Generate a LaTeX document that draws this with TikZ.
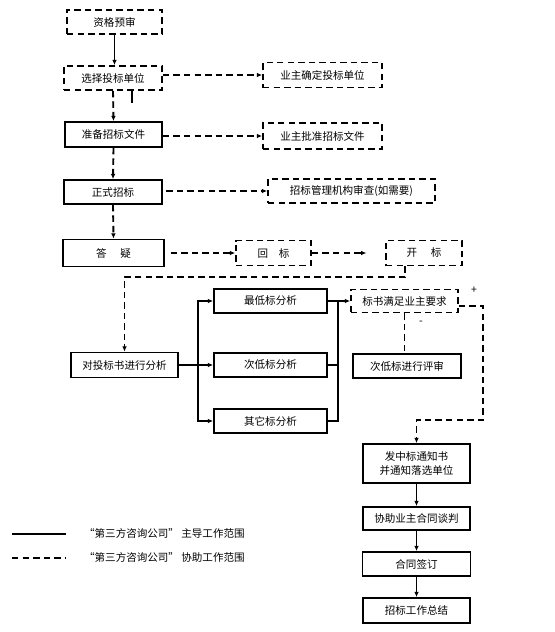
\documentclass[tikz,border=0pt]{standalone}
\usepackage{fontspec}
\setmainfont{Noto Sans CJK SC}
\usepackage{tikz}
\usetikzlibrary{arrows.meta,positioning,calc}

\tikzset{
    flowbox/.style={draw, line width=1.5pt, inner sep=0pt, align=center},
    dashbox/.style={flowbox, dash pattern=on 5.5pt off 3.5pt},
    solidlink/.style={line width=1.6pt},
    dashlink/.style={line width=1.6pt, dash pattern=on 5.5pt off 3.5pt},
    arrowed/.style={-{Latex[length=4.5pt,width=4pt]}}
}

\begin{document}
\begin{tikzpicture}[x=0.03cm, y=-0.03cm, font=\fontsize{9}{12}\selectfont]
    \useasboundingbox (0,0) rectangle (555,632);

    % Left column
    \node[dashbox, minimum width=2.85cm, minimum height=0.72cm] (qual) at (114.5,22) {资格预审};
    \node[dashbox, minimum width=2.94cm, minimum height=0.72cm] (select) at (113,78) {选择投标单位};
    \node[flowbox, minimum width=2.91cm, minimum height=0.75cm] (prep) at (113.5,134.5) {准备招标文件};
    \node[flowbox, minimum width=2.94cm, minimum height=0.72cm] (tender) at (113,192) {正式招标};
    \node[flowbox, minimum width=3.03cm, minimum height=0.81cm] (qa) at (113.5,253) {答\hspace{1.3em}疑};

    % Owner side
    \node[dashbox, minimum width=3.57cm, minimum height=0.75cm] (ownsel) at (322.5,75) {业主确定投标单位};
    \node[dashbox, minimum width=3.57cm, minimum height=0.78cm] (ownapp) at (322.5,136) {业主批准招标文件};
    \node[dashbox, minimum width=5.01cm, minimum height=0.72cm] (review) at (351.5,191) {招标管理机构审查(如需要)};
    \node[dashbox, minimum width=2.25cm, minimum height=0.75cm] (ret) at (273.5,253) {回\hspace{1em}标};
    \node[dashbox, minimum width=2.28cm, minimum height=0.75cm] (open) at (424,253) {开\hspace{1.3em}标};

    % Analysis
    \node[flowbox, minimum width=3.21cm, minimum height=0.75cm] (anal) at (124.5,365) {对投标书进行分析};
    \node[flowbox, minimum width=3.39cm, minimum height=0.72cm] (low1) at (270.5,301) {最低标分析};
    \node[flowbox, minimum width=3.39cm, minimum height=0.72cm] (low2) at (270.5,365) {次低标分析};
    \node[flowbox, minimum width=3.39cm, minimum height=0.72cm] (other) at (270.5,421) {其它标分析};
    \node[dashbox, minimum width=3.21cm, minimum height=0.69cm] (meet) at (404.5,301) {标书满足业主要求};
    \node[flowbox, minimum width=3.24cm, minimum height=0.72cm] (rev2) at (407,366) {次低标进行评审};

    % Right column
    \node[flowbox, minimum width=3.21cm, minimum height=1.17cm] (notice) at (416.5,463.5) {发中标通知书\\并通知落选单位};
    \node[flowbox, minimum width=3.21cm, minimum height=0.69cm] (nego) at (416.5,518.5) {协助业主合同谈判};
    \node[flowbox, minimum width=3.24cm, minimum height=0.72cm] (sign) at (416.5,564) {合同签订};
    \node[flowbox, minimum width=3.21cm, minimum height=0.75cm] (sum) at (416.5,610.5) {招标工作总结};

    % Labels
    \node (plus) at (474,290) {+};
    \node (minus) at (421,323) {-};

    % Helper points
    \coordinate (stubend) at (132,103);
    \coordinate (bend) at (405,277);
    \coordinate (fork) at (198,365);
    \coordinate (join) at (338,421);
    \coordinate (yes) at (483,420);

    % Main flow
    \draw[solidlink, arrowed] (qual.south) -- (qual.south |- select.north);
    \draw[solidlink] (stubend |- select.south) -- (stubend);
    \draw[dashlink, arrowed] (select.south) -- (prep.north);
    \draw[dashlink, arrowed] (prep.south) -- (tender.north);
    \draw[dashlink, arrowed] (tender.south) -- (qa.north);

    % Owner links
    \draw[dashlink, arrowed] (ownsel.west -| select.east) -- (ownsel.west);
    \draw[dashlink, arrowed] (ownapp.west -| prep.east) -- (ownapp.west);
    \draw[dashlink, arrowed, shorten <=3pt] (review.west -| tender.east) -- (review.west);
    \draw[dashlink, arrowed, shorten <=5pt] (ret.west -| qa.east) -- (ret.west);
    \draw[dashlink, arrowed, shorten >=16pt] (ret.east) -- (open.west);
    \draw[dashlink, arrowed] (open.south -| bend) -- (bend) -| (anal.north);

    % Fork and join
    \draw[solidlink] (anal.east) -- (fork);
    \draw[solidlink, arrowed] (fork) |- (low1.west);
    \draw[solidlink, arrowed] (fork) -- (low2.west);
    \draw[solidlink, arrowed] (fork) |- (other.west);
    \draw[solidlink, arrowed] (low1.east) -- (meet.west);
    \draw[solidlink] (low2.east) -- (low2.east -| join);
    \draw[solidlink] (other.east) -- (join) -- (low1.east -| join);

    % Decision
    \draw[dashlink] (meet.south) -- (meet.south |- rev2.north);
    \draw[dashlink, arrowed] ([yshift=-0.15cm]meet.east) -| (yes) -| (notice.north);

    % Contract
    \draw[solidlink, arrowed] (notice.south) -- (nego.north);
    \draw[solidlink, arrowed] (nego.south) -- (sign.north);
    \draw[solidlink, arrowed] (sign.south) -- (sum.north);

    % Legend
    \coordinate (solidA) at (12,534);
    \coordinate (solidB) at (66,534);
    \coordinate (dashA) at (12,558);
    \coordinate (dashB) at (66,558);
    \draw[solidlink] (solidA) -- (solidB);
    \draw[dashlink] (dashA) -- (dashB);
    \node[anchor=west] (solidtext) at (80,534) {“第三方咨询公司” 主导工作范围};
    \node[anchor=west] (dashtext) at (80,558) {“第三方咨询公司” 协助工作范围};

\end{tikzpicture}
\end{document}
